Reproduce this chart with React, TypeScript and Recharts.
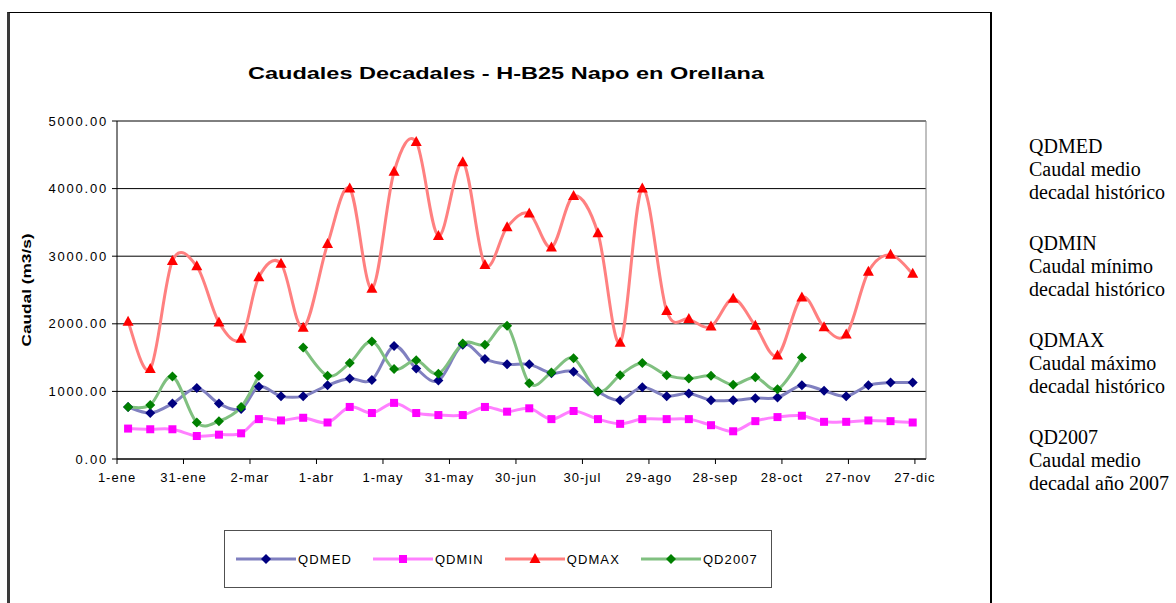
import { CartesianGrid, Legend, Line, LineChart, ReferenceLine, XAxis, YAxis } from 'recharts'

// mid day (0 = 1-ene) of each decade of the year
const decadeDay = [
  5, 15, 25, 36, 46, 56, 64, 74, 84, 95, 105, 115,
  125, 135, 145, 156, 166, 176, 186, 196, 206, 217, 227, 237,
  248, 258, 268, 278, 288, 298, 309, 319, 329, 339, 349, 359,
]

const qdmed = [
  770, 680, 820, 1050, 820, 740, 1070, 930, 930, 1090, 1190, 1170,
  1670, 1340, 1160, 1690, 1480, 1400, 1400, 1270, 1290, 1000, 870, 1060,
  930, 970, 870, 870, 900, 910, 1090, 1010, 930, 1090, 1130, 1130,
]

const qdmin = [
  450, 440, 440, 340, 360, 380, 590, 570, 610, 540, 770, 680,
  830, 680, 650, 650, 770, 700, 750, 590, 710, 590, 520, 590,
  590, 590, 500, 410, 560, 620, 640, 550, 550, 570, 560, 540,
]

const qdmax = [
  2030, 1330, 2930, 2850, 2020, 1780, 2690, 2890, 1940, 3180, 4000, 2520,
  4250, 4690, 3300, 4390, 2870, 3430, 3630, 3130, 3890, 3340, 1720, 4000,
  2190, 2070, 1960, 2370, 1970, 1530, 2390, 1950, 1840, 2770, 3020, 2740,
]

const qd2007 = [
  770, 800, 1220, 540, 560, 770, 1230, null, 1650, 1230, 1420, 1740,
  1330, 1460, 1260, 1710, 1690, 1970, 1120, 1280, 1490, 1000, 1240, 1420,
  1240, 1190, 1230, 1100, 1210, 1030, 1500, null, null, null, null, null,
]

const monthTicks = [0, 30, 60, 90, 120, 150, 180, 210, 240, 270, 300, 330, 360]
const monthLabels = [
  '1-ene', '31-ene', '2-mar', '1-abr', '1-may', '31-may', '30-jun',
  '30-jul', '29-ago', '28-sep', '28-oct', '27-nov', '27-dic',
]
const yTicks = [0, 1000, 2000, 3000, 4000, 5000]

const notes = [
  ['QDMED', 'Caudal medio', 'decadal histórico'],
  ['QDMIN', 'Caudal mínimo', 'decadal histórico'],
  ['QDMAX', 'Caudal máximo', 'decadal histórico'],
  ['QD2007', 'Caudal medio', 'decadal año 2007'],
]

const SERIES = [
  { key: 'qdmed', name: 'QDMED', line: '#8080c0', marker: '#000080', shape: 'diamond' },
  { key: 'qdmin', name: 'QDMIN', line: '#ff80ff', marker: '#ff00ff', shape: 'square' },
  { key: 'qdmax', name: 'QDMAX', line: '#ff8080', marker: '#ff0000', shape: 'triangle' },
  { key: 'qd2007', name: 'QD2007', line: '#80c080', marker: '#008000', shape: 'diamond' },
]

const data = decadeDay.map((day, i) => ({
  day,
  qdmed: qdmed[i],
  qdmin: qdmin[i],
  qdmax: qdmax[i],
  qd2007: qd2007[i],
}))

// Excel-like smoothed line (catmull-rom through the points)
function excelSmooth(context: any) {
  let pts: number[][] = []
  return {
    areaStart() {},
    areaEnd() {},
    lineStart() {
      pts = []
    },
    point(x: number, y: number) {
      pts.push([+x, +y])
    },
    lineEnd() {
      if (!pts.length) return
      context.moveTo(pts[0][0], pts[0][1])
      for (let i = 0; i < pts.length - 1; i++) {
        const p0 = pts[i - 1] || pts[i]
        const p1 = pts[i]
        const p2 = pts[i + 1]
        const p3 = pts[i + 2] || p2
        context.bezierCurveTo(
          p1[0] + (p2[0] - p0[0]) / 6,
          p1[1] + (p2[1] - p0[1]) / 6,
          p2[0] - (p3[0] - p1[0]) / 6,
          p2[1] - (p3[1] - p1[1]) / 6,
          p2[0],
          p2[1]
        )
      }
    },
  }
}

function Marker({ shape, color, cx, cy }: { shape: string; color: string; cx: number; cy: number }) {
  if (shape === 'square') {
    return <rect x={cx - 4} y={cy - 4} width={8} height={8} fill={color} />
  }
  if (shape === 'triangle') {
    return <polygon points={`${cx},${cy - 6} ${cx + 5.5},${cy + 4} ${cx - 5.5},${cy + 4}`} fill={color} />
  }
  return <polygon points={`${cx},${cy - 5} ${cx + 5},${cy} ${cx},${cy + 5} ${cx - 5},${cy}`} fill={color} />
}

const XTick = ({ x, y, payload }: any) => (
  <text x={x} y={y} dy="0.71em" textAnchor="middle" fontSize={13} fill="#000" letterSpacing={1}>
    {monthLabels[monthTicks.indexOf(payload.value)]}
  </text>
)

const YTick = ({ x, y, payload }: any) => (
  <text x={x} y={y} dy="0.355em" textAnchor="end" fontSize={13} fill="#000" letterSpacing={1.8}>
    {payload.value.toFixed(2)}
  </text>
)

// legend in the same order as the series
const renderLegend = () => (
  <div
    style={{
      boxSizing: 'border-box',
      width: 548,
      height: 58,
      border: '1px solid #505050',
      display: 'flex',
      alignItems: 'center',
      paddingLeft: 11,
      gap: 21,
    }}
  >
    {SERIES.map((s) => (
      <div key={s.key} style={{ display: 'flex', alignItems: 'center' }}>
        <svg width={60} height={12}>
          <line x1={0} y1={6} x2={60} y2={6} stroke={s.line} strokeWidth={3} />
          <Marker shape={s.shape} color={s.marker} cx={30} cy={6} />
        </svg>
        <span style={{ marginLeft: 2, fontSize: 13, letterSpacing: 1.1, color: '#000' }}>{s.name}</span>
      </div>
    ))}
  </div>
)

export default function App() {
  return (
    <div
      style={{
        position: 'absolute',
        left: 0,
        top: 0,
        width: 1176,
        height: 603,
        overflow: 'hidden',
        background: '#fff',
        fontFamily: '"Liberation Sans", Arial, sans-serif',
      }}
    >
      <div
        style={{
          position: 'absolute',
          left: 7,
          top: 12,
          width: 980,
          height: 620,
          borderTop: '1px solid #000',
          borderLeft: '3px solid #3a3a3a',
          borderRight: '2px solid #000',
        }}
      />
      <div style={{ position: 'absolute', left: 0, top: 0 }}>
        <LineChart width={1000} height={603} data={data} margin={{ top: 121, right: 74, bottom: 114, left: 0 }}>
          <CartesianGrid vertical={false} stroke="#000" />
          <XAxis
            dataKey="day"
            type="number"
            domain={[0, 365]}
            ticks={monthTicks}
            tick={<XTick />}
            tickSize={5}
            tickMargin={9}
            height={30}
            axisLine={{ stroke: '#000' }}
            tickLine={{ stroke: '#000' }}
          />
          <YAxis
            type="number"
            domain={[0, 5000]}
            ticks={yTicks}
            tick={<YTick />}
            tickSize={5}
            tickMargin={4}
            width={117}
            axisLine={{ stroke: '#000' }}
            tickLine={{ stroke: '#000' }}
          />
          <ReferenceLine x={365} stroke="#808080" />
          <Legend
            layout="horizontal"
            verticalAlign="middle"
            align="center"
            content={renderLegend}
            wrapperStyle={{ left: 224, top: 530, width: 548, height: 58 }}
          />
          {SERIES.map((s) => (
            <Line
              key={s.key}
              dataKey={s.key}
              name={s.name}
              type={excelSmooth as any}
              stroke={s.line}
              strokeWidth={3}
              isAnimationActive={false}
              dot={(p: any) =>
                p.cx == null || p.cy == null || p.value == null ? (
                  <g key={p.index} />
                ) : (
                  <Marker key={p.index} shape={s.shape} color={s.marker} cx={p.cx} cy={p.cy} />
                )
              }
              activeDot={false}
            />
          ))}
        </LineChart>
      </div>
      <svg width={1000} height={603} style={{ position: 'absolute', left: 0, top: 0, pointerEvents: 'none' }}>
        <text
          x={506}
          y={79}
          textAnchor="middle"
          fontSize={17}
          fontWeight="bold"
          fill="#000"
          textLength={516}
          lengthAdjust="spacingAndGlyphs"
        >
          Caudales Decadales - H-B25 Napo en Orellana
        </text>
        <text
          transform="translate(31,290) rotate(-90)"
          textAnchor="middle"
          fontSize={13}
          fontWeight="bold"
          fill="#000"
          textLength={113}
          lengthAdjust="spacingAndGlyphs"
        >
          Caudal (m3/s)
        </text>
      </svg>
      {notes.map((lines, i) => (
        <div
          key={lines[0]}
          style={{
            position: 'absolute',
            left: 1029,
            top: 135 + i * 97,
            fontFamily: '"Liberation Serif", "Times New Roman", serif',
            fontSize: 20,
            lineHeight: '23px',
            color: '#000',
            whiteSpace: 'nowrap',
          }}
        >
          {lines.map((t) => (
            <div key={t}>{t}</div>
          ))}
        </div>
      ))}
    </div>
  )
}
